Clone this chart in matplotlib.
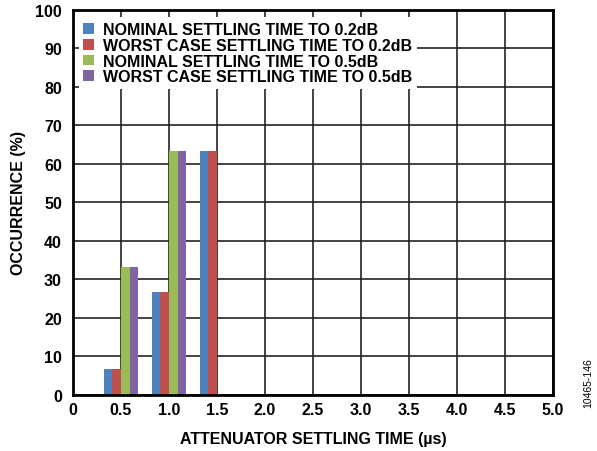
import numpy as np
import matplotlib

matplotlib.use("Agg")
import matplotlib.pyplot as plt

plt.rcParams["font.family"] = ["Liberation Sans", "DejaVu Sans"]

# settling-time bins (us) and occurrence (%) per series
settling_time = [0.5, 1.0, 1.5]
nominal_02 = [6.7, 26.7, 63.3]
worst_02 = [6.7, 26.7, 63.3]
nominal_05 = [33.3, 63.3, 0.0]
worst_05 = [33.3, 63.3, 0.0]

series = [
    ("NOMINAL SETTLING TIME TO 0.2dB", nominal_02, "#4F81BD"),
    ("WORST CASE SETTLING TIME TO 0.2dB", worst_02, "#C0504D"),
    ("NOMINAL SETTLING TIME TO 0.5dB", nominal_05, "#9BBB59"),
    ("WORST CASE SETTLING TIME TO 0.5dB", worst_05, "#8064A2"),
]

FS = 11.5

fig = plt.figure(figsize=(5.97, 4.52), dpi=100)
ax = fig.add_axes([0.1223, 0.1239, 0.8037, 0.8518])

x = np.array(settling_time)
w = 0.09
for i, (label, vals, color) in enumerate(series):
    ax.bar(x + (i - 1.5) * w, vals, width=w, color=color, label=label, zorder=3)

ax.set_xlim(0, 5)
ax.set_ylim(0, 100)
ax.set_xticks(np.arange(0, 5.01, 0.5))
ax.set_xticklabels(["0"] + [f"{v:.1f}" for v in np.arange(0.5, 5.01, 0.5)])
ax.set_yticks(np.arange(0, 101, 10))
ax.grid(True, color="#222222", lw=1.2, zorder=0)
ax.tick_params(length=0, labelsize=FS)
ax.tick_params(axis="x", pad=5)
ax.tick_params(axis="y", pad=8)
for lab in ax.get_xticklabels() + ax.get_yticklabels():
    lab.set_fontweight("bold")
for sp in ax.spines.values():
    sp.set_linewidth(2.0)
    sp.set_zorder(5)

ax.set_xlabel("ATTENUATOR SETTLING TIME (µs)", fontsize=FS, fontweight="bold")
ax.set_ylabel("OCCURRENCE (%)", fontsize=FS, fontweight="bold")
ax.xaxis.set_label_coords(0.5, -0.0945)
ax.yaxis.set_label_coords(-0.098, 0.5)

leg = ax.legend(loc="upper left", bbox_to_anchor=(0, 0.995),
                prop={"weight": "bold", "size": FS},
                frameon=True, fancybox=False, framealpha=1, edgecolor="none",
                handlelength=0.65, handleheight=0.65, handletextpad=0.55,
                labelspacing=0.04, borderpad=0.3, borderaxespad=0.35)
leg.set_zorder(4)

fig.text(0.985, 0.153, "10465-146", rotation=90, fontsize=7.5, ha="center", va="center")

fig.savefig("out.png", dpi=100)
